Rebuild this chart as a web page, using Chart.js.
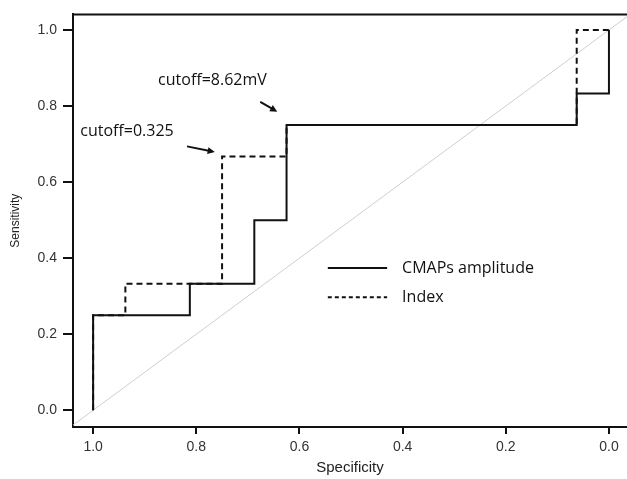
<!DOCTYPE html>
<html>
<head>
<meta charset="utf-8">
<script src="https://cdn.jsdelivr.net/npm/chart.js@4/dist/chart.umd.min.js"></script>
<style>
    html, body { margin: 0; padding: 0; background: #fff; }
    #wrap { width: 627px; height: 479px; }
</style>
</head>
<body>
<div id="wrap"><canvas id="rocChart"></canvas></div>
<script>
// Tick labels
const xTicks = [1.0, 0.8, 0.6, 0.4, 0.2, 0.0];
const yTicks = [0.0, 0.2, 0.4, 0.6, 0.8, 1.0];

// CMAPs amplitude ROC steps
const cmapsSpec = [1, 1, 0.8125, 0.8125, 0.6875, 0.6875, 0.625, 0.625, 0.0625, 0.0625, 0, 0];
const cmapsSens = [0, 0.25, 0.25, 0.333, 0.333, 0.5, 0.5, 0.75, 0.75, 0.833, 0.833, 1];

// Index ROC steps
const indexSpec = [1, 1, 0.9375, 0.9375, 0.75, 0.75, 0.625, 0.625, 0.0625, 0.0625, 0];
const indexSens = [0, 0.25, 0.25, 0.333, 0.333, 0.667, 0.667, 0.75, 0.75, 1, 1];

// Chance line (sens = 1 - spec), running past the plot edges
const refSpec = [1.1, -0.1];
const refSens = [-0.1, 1.1];

// Annotation labels and arrows, in data units
const notes = [
    { text: 'cutoff=8.62mV', x: 0.874, y: 0.868, from: [0.676, 0.811], to: [0.643, 0.785] },
    { text: 'cutoff=0.325', x: 1.025, y: 0.733, from: [0.818, 0.694], to: [0.764, 0.679] }
];

const toPoints = (xs, ys) => xs.map((x, i) => ({ x: x, y: ys[i] }));

const annotFont = '16px "Open Sans", sans-serif';
const axisFont = { family: '"Liberation Sans", Arial, sans-serif', size: 14 };

const extras = {
    id: 'extras',
    afterDatasetsDraw(chart) {
        const { ctx, chartArea, scales } = chart;
        const sx = scales.x, sy = scales.y;
        ctx.save();

        // top frame line
        ctx.strokeStyle = '#111';
        ctx.lineWidth = 2;
        ctx.beginPath();
        ctx.moveTo(chartArea.left, chartArea.top);
        ctx.lineTo(chartArea.right, chartArea.top);
        ctx.stroke();

        // legend
        const items = [
            { ds: chart.data.datasets[0], y: 0.374, dash: [] },
            { ds: chart.data.datasets[1], y: 0.297, dash: [4, 3] }
        ];
        ctx.font = annotFont;
        ctx.fillStyle = '#111';
        ctx.textBaseline = 'middle';
        items.forEach(item => {
            const py = sy.getPixelForValue(item.y);
            ctx.strokeStyle = item.ds.borderColor;
            ctx.lineWidth = 2;
            ctx.setLineDash(item.dash);
            ctx.beginPath();
            ctx.moveTo(sx.getPixelForValue(0.545), py);
            ctx.lineTo(sx.getPixelForValue(0.430), py);
            ctx.stroke();
            ctx.setLineDash([]);
            ctx.fillText(item.ds.label, sx.getPixelForValue(0.401), py);
        });

        // cutoff annotations
        notes.forEach(n => {
            ctx.fillStyle = '#111';
            ctx.textAlign = 'left';
            ctx.fillText(n.text, sx.getPixelForValue(n.x), sy.getPixelForValue(n.y));
            const x1 = sx.getPixelForValue(n.from[0]), y1 = sy.getPixelForValue(n.from[1]);
            const x2 = sx.getPixelForValue(n.to[0]), y2 = sy.getPixelForValue(n.to[1]);
            const ang = Math.atan2(y2 - y1, x2 - x1);
            ctx.strokeStyle = '#111';
            ctx.lineWidth = 2;
            ctx.beginPath();
            ctx.moveTo(x1, y1);
            ctx.lineTo(x2 - 5 * Math.cos(ang), y2 - 5 * Math.sin(ang));
            ctx.stroke();
            ctx.beginPath();
            ctx.moveTo(x2, y2);
            ctx.lineTo(x2 - 8 * Math.cos(ang - 0.45), y2 - 8 * Math.sin(ang - 0.45));
            ctx.lineTo(x2 - 8 * Math.cos(ang + 0.45), y2 - 8 * Math.sin(ang + 0.45));
            ctx.closePath();
            ctx.fill();
        });
        ctx.restore();
    }
};

new Chart(document.getElementById('rocChart'), {
    type: 'scatter',
    data: {
        datasets: [
            {
                label: 'CMAPs amplitude',
                data: toPoints(cmapsSpec, cmapsSens),
                showLine: true,
                borderColor: '#111',
                borderWidth: 2,
                pointRadius: 0,
                fill: false
            },
            {
                label: 'Index',
                data: toPoints(indexSpec, indexSens),
                showLine: true,
                borderColor: '#111',
                borderWidth: 2,
                borderDash: [6, 4],
                pointRadius: 0,
                fill: false
            },
            {
                label: 'reference',
                data: toPoints(refSpec, refSens),
                showLine: true,
                borderColor: '#cfcfcf',
                borderWidth: 1,
                pointRadius: 0,
                fill: false
            }
        ]
    },
    options: {
        responsive: true,
        maintainAspectRatio: false,
        animation: false,
        layout: { padding: { top: 8, right: 0, left: 0, bottom: 0 } },
        plugins: {
            legend: { display: false },
            tooltip: { enabled: false }
        },
        scales: {
            x: {
                type: 'linear',
                reverse: true,
                min: -0.035,
                max: 1.039,
                afterBuildTicks: s => { s.ticks = xTicks.map(v => ({ value: v })); },
                afterFit: s => { s.height = 52; },
                ticks: {
                    callback: v => v.toFixed(1),
                    font: axisFont,
                    color: '#333',
                    padding: 5,
                    maxRotation: 0
                },
                grid: {
                    drawOnChartArea: false,
                    drawTicks: true,
                    tickLength: 7,
                    color: '#111',
                    lineWidth: 2
                },
                border: { display: true, color: '#111', width: 2 },
                title: {
                    display: true,
                    text: 'Specificity',
                    font: { family: '"Liberation Sans", Arial, sans-serif', size: 15 },
                    color: '#222',
                    padding: { top: 0, bottom: 2 }
                }
            },
            y: {
                type: 'linear',
                min: -0.044,
                max: 1.041,
                afterBuildTicks: s => { s.ticks = yTicks.map(v => ({ value: v })); },
                afterFit: s => { s.width = 73; },
                ticks: {
                    callback: v => v.toFixed(1),
                    font: axisFont,
                    color: '#333',
                    padding: 6
                },
                grid: {
                    drawOnChartArea: false,
                    drawTicks: true,
                    tickLength: 10,
                    color: '#111',
                    lineWidth: 2
                },
                border: { display: true, color: '#111', width: 2 },
                title: {
                    display: true,
                    text: 'Sensitivity',
                    font: { family: '"Liberation Sans", Arial, sans-serif', size: 12 },
                    color: '#222',
                    padding: { top: 8, bottom: 0 }
                }
            }
        }
    },
    plugins: [extras]
});
</script>
</body>
</html>
